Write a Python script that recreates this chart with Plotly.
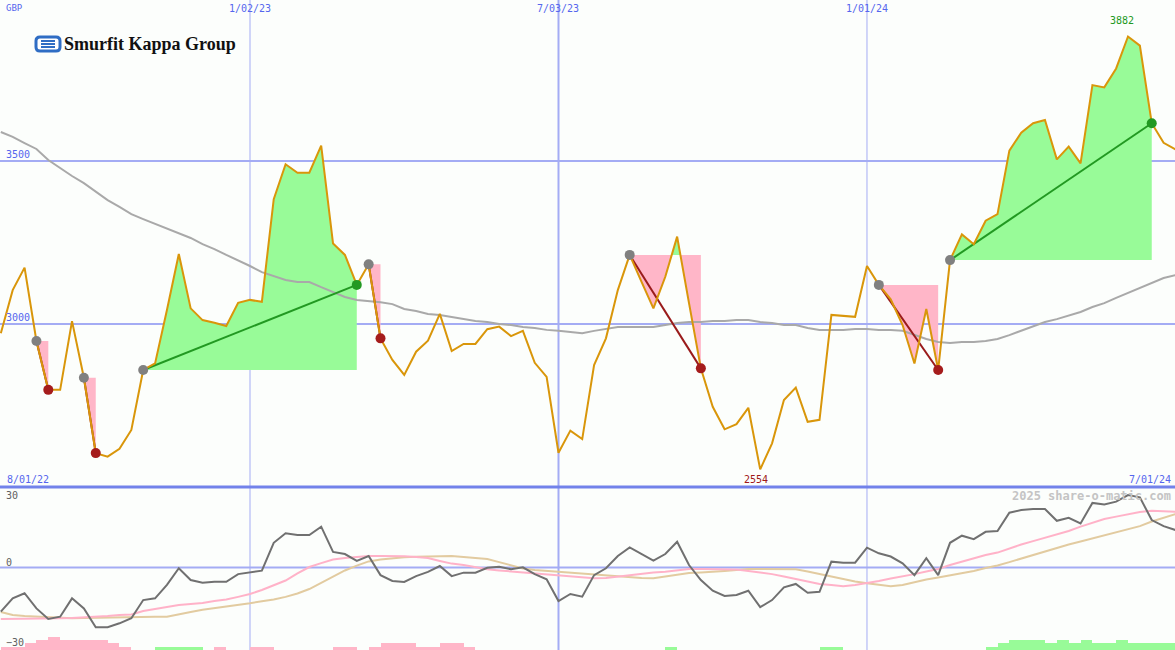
import plotly.graph_objects as go

# ---------------- data (weekly) ----------------
price = [2972, 3104, 3173, 2948, 2798, 2798, 3009, 2835, 2604, 2593,
         2617, 2675, 2859, 2879, 3043, 3215, 3048, 3012, 3004, 2994,
         3065, 3074, 3068, 3383, 3490, 3464, 3464, 3547, 3247, 3212,
         3120, 3183, 2956, 2890, 2844, 2915, 2949, 3031, 2917, 2939,
         2939, 2984, 2992, 2963, 2979, 2881, 2838, 2605, 2673, 2647,
         2874, 2956, 3104, 3212, 3129, 3048, 3145, 3268, 3064, 2864,
         2746, 2677, 2693, 2743, 2554, 2634, 2767, 2805, 2700, 2706,
         3028, 3025, 3022, 3178, 3120, 3076, 2997, 2879, 3046, 2859,
         3196, 3275, 3245, 3317, 3337, 3532, 3587, 3616, 3626, 3505,
         3544, 3493, 3733, 3726, 3784, 3882, 3854, 3616, 3556, 3536]

moving_avg = [3589, 3574, 3555, 3537, 3503, 3478, 3454, 3432, 3405, 3380,
              3359, 3337, 3322, 3307, 3294, 3279, 3264, 3245, 3230, 3212,
              3196, 3178, 3159, 3147, 3135, 3129, 3129, 3113, 3098, 3083,
              3074, 3071, 3067, 3061, 3046, 3040, 3031, 3028, 3021, 3015,
              3009, 3006, 3000, 2997, 2991, 2988, 2982, 2979, 2975, 2972,
              2979, 2985, 2991, 2991, 2991, 2991, 2997, 3003, 3006, 3006,
              3009, 3009, 3012, 3012, 3006, 3003, 2997, 2997, 2988, 2982,
              2982, 2982, 2985, 2985, 2982, 2982, 2979, 2966, 2954, 2945,
              2942, 2945, 2945, 2948, 2954, 2966, 2979, 2994, 3006, 3015,
              3025, 3037, 3052, 3064, 3080, 3095, 3110, 3126, 3141, 3150]

oscillator = [-18.0, -12.6, -10.5, -16.7, -21.0, -20.1, -12.6, -16.7, -24.4, -24.4,
              -22.8, -20.7, -13.3, -12.6, -7.1, -0.3, -5.1, -6.2, -5.8, -5.8,
              -2.7, -2.1, -1.3, 10.1, 14.0, 13.3, 13.3, 16.7, 6.4, 5.5,
              2.7, 4.7, -3.1, -5.5, -5.9, -3.5, -1.8, 0.6, -3.5, -2.1,
              -2.1, -0.1, 0.3, -0.7, 0.1, -2.7, -4.8, -13.7, -10.8, -11.9,
              -3.1, -0.3, 4.7, 8.2, 5.5, 2.8, 5.5, 10.5, 1.0, -5.1,
              -9.5, -11.6, -11.2, -9.5, -16.2, -13.3, -8.1, -6.7, -10.3, -9.9,
              2.4, 2.0, 2.0, 8.1, 5.8, 4.5, 1.7, -3.1, 3.8, -3.1,
              10.1, 13.0, 11.6, 14.6, 14.9, 22.4, 23.5, 23.9, 23.9, 19.1,
              20.3, 18.0, 26.4, 25.8, 26.9, 29.6, 28.7, 19.4, 16.9, 15.3]

osc_fast = [-21.0, -21.0, -21.0, -21.0, -20.8, -20.7, -20.6, -20.4, -20.2, -19.8,
            -19.4, -19.2, -17.8, -16.9, -16.0, -15.3, -14.9, -14.5, -13.7, -13.1,
            -12.0, -10.8, -9.2, -7.3, -5.3, -2.4, 0.2, 1.8, 3.3, 3.9,
            4.3, 4.7, 4.7, 4.7, 4.6, 4.3, 3.9, 2.7, 1.6, 1.0,
            0.0, -0.7, -1.2, -1.6, -2.0, -2.4, -2.7, -3.1, -3.7, -4.1,
            -4.4, -4.3, -3.7, -3.1, -2.7, -2.0, -1.7, -1.0, -0.6, -0.6,
            -0.6, -0.6, -0.8, -1.4, -2.0, -2.7, -3.7, -4.7, -5.7, -6.7,
            -7.1, -7.6, -7.1, -6.4, -5.5, -4.5, -3.7, -2.7, -1.6, -0.6,
            1.0, 2.4, 3.7, 5.1, 6.1, 7.8, 9.4, 10.8, 12.2, 13.5,
            14.9, 16.7, 18.4, 19.8, 20.8, 21.8, 22.7, 23.2, 23.1, 22.8]

osc_slow = [-18.2, -19.4, -19.8, -20.1, -20.4, -20.6, -20.7, -20.6, -20.5, -20.4,
            -20.2, -20.1, -20.1, -20.1, -20.1, -19.0, -18.2, -17.3, -16.7, -16.1,
            -15.3, -14.6, -13.8, -13.1, -12.0, -10.6, -8.8, -6.3, -3.5, -1.2,
            0.8, 2.5, 3.3, 3.9, 4.2, 4.4, 4.6, 4.7, 4.7, 4.3,
            3.9, 3.5, 2.2, 1.0, -0.4, -1.0, -1.4, -1.8, -2.0, -2.4,
            -2.9, -3.3, -3.7, -4.0, -4.3, -4.4, -3.7, -2.9, -2.2, -2.0,
            -1.8, -1.4, -1.0, -0.6, -0.6, -0.6, -0.6, -0.7, -1.6, -2.7,
            -3.7, -4.7, -5.7, -6.4, -7.1, -7.6, -7.1, -5.9, -4.9, -4.1,
            -3.3, -2.4, -1.4, -0.2, 0.8, 2.2, 3.7, 5.1, 6.5, 8.0,
            9.4, 10.6, 11.8, 13.1, 14.5, 15.7, 16.9, 18.8, 20.4, 21.8]

# weekly strength bars (positive = green, negative = pink), one per week gap
strength = [-1, -1, -2, -3, -4, -3, -3, -3, -3, -2,
            -1, 0, 0, 1, 1, 1, 1, 0, -1, 0,
            0, -1, -1, 0, 0, 0, 0, 0, -1, -1,
            0, -1, -2, -2, -2, -1, -1, -2, -2, -1,
            0, 0, 0, 0, 0, 0, 0, 0, 0, 0,
            0, 0, 0, 0, 0, 0, 1, 0, 0, 0,
            0, 0, 0, 0, 0, 0, 0, 0, 0, 1,
            1, 0, 0, 0, 0, 0, 0, 0, 0, 0,
            0, 0, 0, 1, 2, 3, 3, 3, 2, 3,
            2, 3, 2, 2, 3, 2, 2, 2, 2]

entries = [3, 7, 12, 31, 53, 74, 80]
exits = [4, 8, 30, 32, 59, 79, 97]

grid_weeks = [21, 47, 73]
grid_labels = ["1/02/23", "7/03/23", "1/01/24"]
grid_widths = [1, 2, 1]
start_label = "8/01/22"
end_label = "7/01/24"
price_levels = [3000, 3500]
osc_levels = [30, 0, -30]

# ---------------- styling ----------------
W, H = 1175, 650
SPLIT = 487  # pixel row of the panel separator
BG = "#FCFEFC"
GREEN_FILL = "#98FB98"
PINK_FILL = "#FFB6C8"
BLUE_GRID = "#A4ACF4"
BLUE_TEXT = "#5566EE"
MONO = "DejaVu Sans Mono, monospace"

weeks = list(range(len(price)))
xr = [-0.07, 98.96]
split_paper = 1 - SPLIT / H


def px(x):
    return x / W


def py(y):
    return 1 - y / H


fig = go.Figure()

# trade shading
for a, b in zip(entries, exits):
    L = price[a]
    xs, ps = [a], [price[a]]
    for i in range(a, b):
        p0, p1 = price[i], price[i + 1]
        if (p0 - L) * (p1 - L) < 0:
            t = (L - p0) / (p1 - p0)
            xs.append(i + t)
            ps.append(L)
        xs.append(i + 1)
        ps.append(p1)
    up = [max(p, L) for p in ps]
    dn = [min(p, L) for p in ps]
    back_x = xs[::-1]
    for ys, col in ((up, GREEN_FILL), (dn, PINK_FILL)):
        fig.add_trace(go.Scatter(
            x=xs + back_x, y=ys + [L] * len(xs), fill="toself", fillcolor=col,
            mode="lines", line=dict(width=0, color=col), hoverinfo="skip",
            showlegend=False, xaxis="x", yaxis="y"))

# moving average
fig.add_trace(go.Scatter(x=weeks, y=moving_avg, mode="lines",
                         line=dict(color="#A9A9A9", width=2),
                         showlegend=False, xaxis="x", yaxis="y"))

# trade lines
for a, b in zip(entries, exits):
    col = "#229922" if price[b] > price[a] else "#9A1B1B"
    fig.add_trace(go.Scatter(x=[a, b], y=[price[a], price[b]], mode="lines",
                             line=dict(color=col, width=2),
                             showlegend=False, xaxis="x", yaxis="y"))

# price
fig.add_trace(go.Scatter(x=weeks, y=price, mode="lines",
                         line=dict(color="#D9960A", width=2),
                         showlegend=False, xaxis="x", yaxis="y"))

# markers
fig.add_trace(go.Scatter(x=entries, y=[price[a] for a in entries], mode="markers",
                         marker=dict(color="#808080", size=10, line=dict(width=0)),
                         showlegend=False, xaxis="x", yaxis="y"))
fig.add_trace(go.Scatter(
    x=exits, y=[price[b] for b in exits], mode="markers",
    marker=dict(color=["#229922" if price[b] > price[a] else "#A51C1C"
                       for a, b in zip(entries, exits)], size=10, line=dict(width=0)),
    showlegend=False, xaxis="x", yaxis="y"))

# lower panel bars
bar_x = [i + 0.5 for i in range(len(strength))]
fig.add_trace(go.Bar(x=bar_x, y=[abs(s) for s in strength], width=1,
                     marker=dict(color=[GREEN_FILL if s > 0 else PINK_FILL for s in strength],
                                 line=dict(width=0)),
                     showlegend=False, xaxis="x", yaxis="y3"))

# lower panel lines
fig.add_trace(go.Scatter(x=weeks, y=osc_slow, mode="lines",
                         line=dict(color="#E2CBA0", width=2),
                         showlegend=False, xaxis="x", yaxis="y2"))
fig.add_trace(go.Scatter(x=weeks, y=osc_fast, mode="lines",
                         line=dict(color="#FFB2C8", width=2),
                         showlegend=False, xaxis="x", yaxis="y2"))
fig.add_trace(go.Scatter(x=weeks, y=oscillator, mode="lines",
                         line=dict(color="#707070", width=2),
                         showlegend=False, xaxis="x", yaxis="y2"))

shapes = []
# vertical date grid
for g, w in zip(grid_weeks, grid_widths):
    shapes.append(dict(type="line", xref="x", yref="paper", x0=g, x1=g, y0=0, y1=1,
                       line=dict(color=BLUE_GRID, width=w), layer="below"))
# horizontal price grid
for lv in price_levels:
    shapes.append(dict(type="line", xref="paper", yref="y", x0=0, x1=1, y0=lv, y1=lv,
                       line=dict(color=BLUE_GRID, width=2), layer="below"))
# zero line lower panel
shapes.append(dict(type="line", xref="paper", yref="y2", x0=0, x1=1, y0=0, y1=0,
                   line=dict(color=BLUE_GRID, width=2), layer="below"))
# separator
shapes.append(dict(type="line", xref="paper", yref="paper", x0=0, x1=1,
                   y0=split_paper, y1=split_paper,
                   line=dict(color="#7282EA", width=3)))

# logo icon
x0, x1, y0, y1, r = 36, 60, 37, 51, 4
path = (f"M {px(x0 + r)},{py(y0)} L {px(x1 - r)},{py(y0)} Q {px(x1)},{py(y0)} {px(x1)},{py(y0 + r)} "
        f"L {px(x1)},{py(y1 - r)} Q {px(x1)},{py(y1)} {px(x1 - r)},{py(y1)} "
        f"L {px(x0 + r)},{py(y1)} Q {px(x0)},{py(y1)} {px(x0)},{py(y1 - r)} "
        f"L {px(x0)},{py(y0 + r)} Q {px(x0)},{py(y0)} {px(x0 + r)},{py(y0)} Z")
shapes.append(dict(type="path", xref="paper", yref="paper", path=path,
                   fillcolor="white", line=dict(color="#2F6DC4", width=3)))
for yy in (41, 44, 47):
    shapes.append(dict(type="line", xref="paper", yref="paper",
                       x0=px(41), x1=px(55), y0=py(yy), y1=py(yy),
                       line=dict(color="#2F6DC4", width=2)))

ann = []


def text(x, y, s, color, size=10, xanchor="left", xref="paper", yref="paper",
         family=MONO, yanchor="middle", xshift=0, yshift=0):
    ann.append(dict(x=x, y=y, xref=xref, yref=yref, text=s, showarrow=False,
                    xanchor=xanchor, yanchor=yanchor, xshift=xshift, yshift=yshift,
                    font=dict(color=color, size=size, family=family)))


text(px(4), py(8), "GBP", BLUE_TEXT, 9)
for g, lab in zip(grid_weeks, grid_labels):
    text(g, py(8), lab, BLUE_TEXT, 10, xanchor="center", xref="x")
for lv in price_levels:
    text(px(4), lv, str(lv), BLUE_TEXT, 10, yref="y", yanchor="bottom", yshift=-1)
text(px(5), py(479), start_label, BLUE_TEXT, 10)
text(px(1173), py(479), end_label, BLUE_TEXT, 10, xanchor="right")
imin = price.index(min(price))
imax = price.index(max(price))
text(imin, py(479), str(min(price)), "#A01818", 10, xanchor="center", xref="x", xshift=-4)
text(imax, py(20), str(max(price)), "#229922", 10, xanchor="center", xref="x", xshift=-6)
text(px(1173), py(496), "<b>2025 share-o-matic.com</b>", "#C4C4C4", 12, xanchor="right")
for lv, yy in zip(osc_levels, [495, 562, 642]):
    text(px(4), py(yy), f"{lv:d}".replace("-", "\u2212") if lv < 0 else str(lv),
         "#606060", 10)
text(px(62), py(44), "<b>Smurfit Kappa Group</b>", "#111111", 18,
     family="Liberation Serif, Times New Roman, serif")

fig.update_layout(
    width=W, height=H, margin=dict(l=0, r=0, t=0, b=0),
    paper_bgcolor=BG, plot_bgcolor=BG, showlegend=False, bargap=0,
    xaxis=dict(range=xr, visible=False, showgrid=False, zeroline=False),
    yaxis=dict(domain=[split_paper, 1], range=[2500, 3994], visible=False,
               showgrid=False, zeroline=False),
    yaxis2=dict(domain=[0, split_paper], range=[-33.7, 32.9], visible=False,
                showgrid=False, zeroline=False),
    yaxis3=dict(domain=[0, split_paper], range=[0, 50], visible=False,
                showgrid=False, zeroline=False, overlaying="y2"),
    shapes=shapes, annotations=ann,
)

fig.write_html("out.html", config={"displayModeBar": False},
               post_script="document.body.style.margin='0';document.body.style.overflow='hidden';")
